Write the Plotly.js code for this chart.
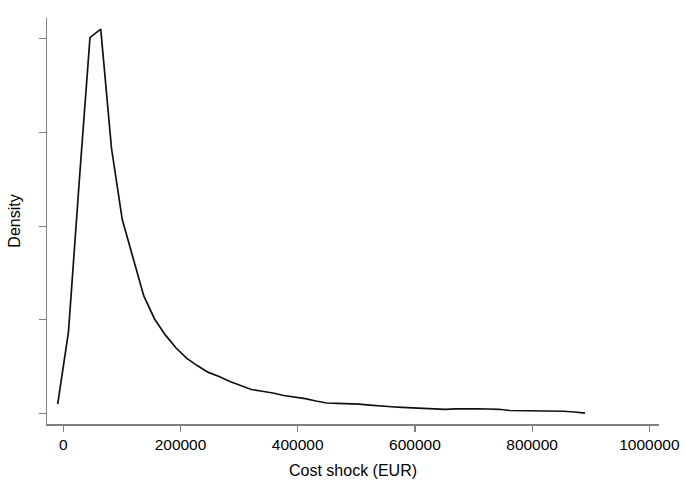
<!DOCTYPE html>
<html>
<head>
<meta charset="utf-8">
<script src="https://cdn.plot.ly/plotly-3.0.1.min.js"></script>
<style>html,body{margin:0;padding:0;background:#fff;}#chart{width:685px;height:492px;}</style>
</head>
<body>
<div id="chart"></div>
<script>
// Cost shock grid (EUR)
const costShock = [-9560, 8804, 27168, 45532, 63896, 82260, 100624, 118988, 137352, 155716,
  174080, 192444, 210808, 229172, 247536, 265900, 284264, 302628, 320992, 339356,
  357720, 376084, 394448, 412812, 431176, 449540, 467904, 486268, 504632, 522996,
  541360, 559724, 578088, 596452, 614816, 633180, 651544, 669908, 688272, 706636,
  725000, 743364, 761728, 780092, 798456, 816820, 835184, 853548, 871912, 890276];
// Density (arbitrary units, one unit per y tick)
const density = [0.103, 0.87, 2.47, 4.01, 4.10, 2.83, 2.07, 1.65, 1.255, 1.01,
  0.84, 0.70, 0.59, 0.51, 0.44, 0.397, 0.343, 0.30, 0.258, 0.239,
  0.221, 0.194, 0.178, 0.160, 0.135, 0.114, 0.109, 0.107, 0.101, 0.091,
  0.079, 0.074, 0.068, 0.063, 0.055, 0.047, 0.047, 0.052, 0.055, 0.052,
  0.050, 0.047, 0.034, 0.032, 0.032, 0.032, 0.032, 0.026, 0.018, 0.007];
const xTickVals = [0, 200000, 400000, 600000, 800000, 1000000];
const xTickText = ["0", "200000", "400000", "600000", "800000", "1000000"];
const yTickVals = [0, 1, 2, 3, 4];

const trace = {
  x: costShock, y: density, type: 'scatter', mode: 'lines',
  line: {color: '#111', width: 1.7}, hoverinfo: 'skip'
};
const font = {family: 'Liberation Sans, Arial, Helvetica, sans-serif', color: '#000'};
const layout = {
  width: 685, height: 492,
  margin: {l: 47, r: 26, t: 18, b: 68},
  paper_bgcolor: '#fff', plot_bgcolor: '#fff',
  showlegend: false,
  font: font,
  xaxis: {
    range: [-27800, 1016500],
    tickvals: xTickVals, ticktext: xTickText,
    ticks: 'outside', ticklen: 6, tickwidth: 1.2, tickcolor: '#808080',
    showline: true, linecolor: '#808080', linewidth: 1.5,
    showgrid: false, zeroline: false,
    tickfont: {size: 15.5, family: font.family, color: '#000'},
    title: {text: 'Cost shock (EUR)', font: {size: 16, family: font.family, color: '#000'}, standoff: 12}
  },
  yaxis: {
    range: [-0.11, 4.219],
    tickvals: yTickVals, showticklabels: false,
    ticks: 'outside', ticklen: 7, tickwidth: 1.2, tickcolor: '#808080',
    showline: true, linecolor: '#808080', linewidth: 1.5,
    showgrid: false, zeroline: false,
    title: {text: 'Density', font: {size: 16, family: font.family, color: '#000'}, standoff: 14}
  }
};
Plotly.newPlot('chart', [trace], layout, {staticPlot: true, displayModeBar: false});
</script>
</body>
</html>
